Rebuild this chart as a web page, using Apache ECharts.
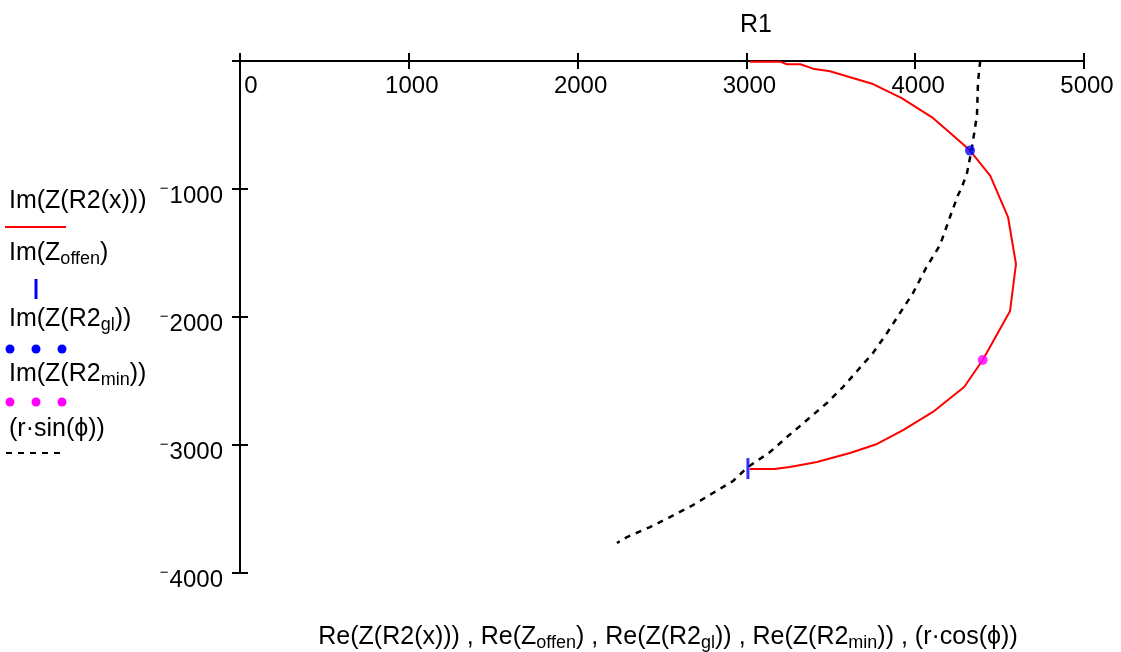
<!DOCTYPE html>
<html>
<head>
<meta charset="utf-8">
<script src="https://cdn.jsdelivr.net/npm/echarts@6/dist/echarts.min.js"></script>
<style>
  html, body { margin: 0; padding: 0; background: #fff; }
  #main { width: 1121px; height: 652px; }
</style>
</head>
<body>
<div id="main"></div>
<script>
// Z(R2(x)) curve
var curveRe = [3020, 3200, 3240, 3320, 3395, 3495, 3750, 3920, 4100, 4255, 4325, 4445, 4550, 4597, 4562, 4400, 4290, 4105, 3928, 3774, 3614, 3418, 3258, 3211, 3169, 3020];
var curveIm = [-5, -5, -25, -25, -60, -80, -180, -290, -440, -617, -700, -898, -1219, -1586, -1953, -2336, -2547, -2742, -2883, -2992, -3063, -3133, -3172, -3180, -3188, -3188];
// single points
var offenRe = [3009], offenIm = [-3184];
var glRe = [4325], glIm = [-700];
var minRe = [4400], minIm = [-2336];
// r*cos(phi), r*sin(phi) arc
var arcRe = [4385, 4372, 4366, 4336, 4307, 4277, 4254, 4206, 4147, 4064, 3987, 3910, 3833, 3750, 3661, 3572, 3477, 3359, 3240, 3140, 3009, 2921, 2802, 2684, 2547, 2429, 2293, 2233];
var arcIm = [0, -164, -422, -680, -875, -984, -1047, -1219, -1438, -1617, -1813, -1969, -2125, -2281, -2414, -2547, -2672, -2805, -2938, -3055, -3172, -3281, -3375, -3469, -3563, -3641, -3719, -3766];

function pairs(xs, ys) {
  return xs.map(function (x, i) { return [x, ys[i]]; });
}

var FONT = 'Liberation Sans, Arial, sans-serif';
var FS = 24;
var LFS = 25;
var subRich = { s: { fontSize: 18, fontFamily: FONT, padding: [12, 0, 0, 0], color: '#000' } };

var myChart = echarts.init(document.getElementById('main'));

function legendText(txt, y) {
  return {
    type: 'text',
    style: { text: txt, x: 9, y: y, verticalAlign: 'middle', fontSize: LFS, fontFamily: FONT, fill: '#000', rich: subRich }
  };
}
function dot(x, y, color) {
  return { type: 'circle', shape: { cx: x, cy: y, r: 4.5 }, style: { fill: color } };
}

var axisLineStyle = { color: '#000', width: 2 };

option = {
  backgroundColor: '#fff',
  animation: false,
  grid: { left: 240, right: 37, top: 61, bottom: 79 },
  xAxis: [{
    type: 'value', position: 'top', min: 0, max: 5000, interval: 1000,
    splitLine: { show: false },
    axisLine: { lineStyle: axisLineStyle },
    axisTick: { length: 8, lineStyle: axisLineStyle },
    axisLabel: {
      inside: true, margin: 13, color: '#000',
      formatter: function (v) { return v === 0 ? '{z|0}' : '{n|' + v + '}'; },
      rich: {
        z: { fontSize: FS, fontFamily: FONT, color: '#000', padding: [0, 0, 0, 22] },
        n: { fontSize: FS, fontFamily: FONT, color: '#000', padding: [0, 0, 0, 6] }
      }
    }
  }, {
    // second axis only for the inward half of the crossing ticks
    type: 'value', position: 'top', min: 0, max: 5000, interval: 1000,
    splitLine: { show: false },
    axisLine: { show: true, lineStyle: axisLineStyle },
    axisTick: { inside: true, length: 8, lineStyle: axisLineStyle },
    axisLabel: { show: false }
  }],
  yAxis: [{
    type: 'value', position: 'left', min: -4000, max: 0, interval: 1000,
    splitLine: { show: false },
    axisLine: { lineStyle: axisLineStyle },
    axisTick: { length: 8, lineStyle: axisLineStyle },
    axisLabel: {
      margin: 17, color: '#000',
      formatter: function (v) { return v === 0 ? '' : '{m|\u2212}{d|' + Math.abs(v) + '}'; },
      rich: {
        m: { fontSize: 15, fontFamily: FONT, color: '#000', padding: [0, 1, 0, 0] },
        d: { fontSize: FS, fontFamily: FONT, color: '#000', padding: [14, 0, 0, 0] }
      }
    }
  }, {
    type: 'value', position: 'left', min: -4000, max: 0, interval: 1000,
    splitLine: { show: false },
    axisLine: { show: true, lineStyle: axisLineStyle },
    axisTick: { inside: true, length: 8, lineStyle: axisLineStyle },
    axisLabel: { show: false }
  }],
  series: [{
    name: 'Im(Z(R2(x)))', type: 'line', data: pairs(curveRe, curveIm),
    showSymbol: false, lineStyle: { color: '#ff0000', width: 2 }, z: 3
  }, {
    name: '(r·sin(ϕ))', type: 'line', data: pairs(arcRe, arcIm),
    showSymbol: false, lineStyle: { color: '#000', width: 2.5, type: [6, 6] }, z: 2
  }, {
    name: 'Im(Z_offen)', type: 'scatter', data: pairs(offenRe, offenIm),
    symbol: 'rect', symbolSize: [3, 21], itemStyle: { color: '#0000ff' }, z: 4
  }, {
    name: 'Im(Z(R2_gl))', type: 'scatter', data: pairs(glRe, glIm),
    symbolSize: 10, itemStyle: { color: '#0000ff' }, z: 5
  }, {
    name: 'Im(Z(R2_min))', type: 'scatter', data: pairs(minRe, minIm),
    symbolSize: 10, itemStyle: { color: '#ff00ff' }, z: 5
  }],
  graphic: [
    { type: 'text', style: { text: 'R1', x: 756, y: 25, align: 'center', verticalAlign: 'middle', fontSize: LFS, fontFamily: FONT, fill: '#000' } },
    legendText('Im(Z(R2(x)))', 201),
    { type: 'line', shape: { x1: 5, y1: 227, x2: 66, y2: 227 }, style: { stroke: '#ff0000', lineWidth: 2 } },
    legendText('Im(Z{s|offen})', 253),
    { type: 'line', shape: { x1: 36, y1: 279, x2: 36, y2: 299 }, style: { stroke: '#0000ff', lineWidth: 3 } },
    legendText('Im(Z(R2{s|gl}))', 319),
    dot(10, 349, '#0000ff'), dot(36, 349, '#0000ff'), dot(62, 349, '#0000ff'),
    legendText('Im(Z(R2{s|min}))', 374),
    dot(10, 402, '#ff00ff'), dot(36, 402, '#ff00ff'), dot(62, 402, '#ff00ff'),
    legendText('(r·sin(ϕ))', 429),
    { type: 'line', shape: { x1: 6, y1: 453, x2: 60, y2: 453 }, style: { stroke: '#000', lineWidth: 2, lineDash: [6, 6] } },
    {
      type: 'text',
      style: {
        text: 'Re(Z(R2(x))) , Re(Z{s|offen}) , Re(Z(R2{s|gl})) , Re(Z(R2{s|min})) , (r·cos(ϕ))',
        x: 668, y: 637, align: 'center', verticalAlign: 'middle',
        fontSize: LFS, fontFamily: FONT, fill: '#000', rich: subRich
      }
    }
  ]
};
myChart.setOption(option);
</script>
</body>
</html>
